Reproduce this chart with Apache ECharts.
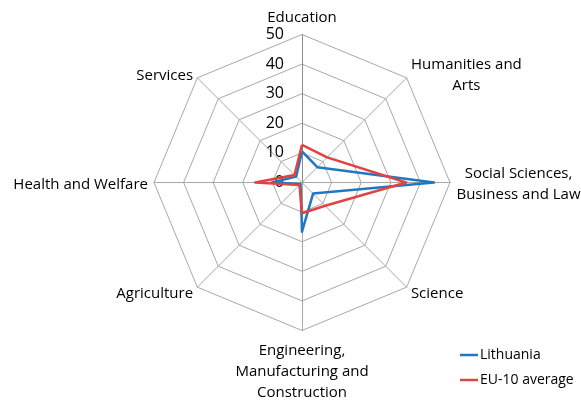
<!DOCTYPE html>
<html>
<head>
<meta charset="utf-8">
<script src="https://cdn.jsdelivr.net/npm/echarts@6/dist/echarts.min.js"></script>
<style>html,body{margin:0;padding:0;background:#fff}#c{width:581px;height:402px}</style>
</head>
<body>
<div id="c"></div>
<script>
// Categories in clockwise order starting at the top
var categories = ['Education', 'Humanities and\nArts', 'Social Sciences,\nBusiness and Law', 'Science',
  'Engineering,\nManufacturing and\nConstruction', 'Agriculture', 'Health and Welfare', 'Services'];
var lithuania = [10.5, 7.3, 44.6, 5.3, 16.6, 0.7, 10.2, 2.8];
var eu10 = [12.7, 12.0, 35.2, 11.1, 10.4, 1.2, 15.8, 3.6];
var seriesNames = ['Lithuania', 'EU-10 average'];
var tickLabels = [0, 10, 20, 30, 40, 50];
var axisMax = 50;

var FONT = 'Open Sans';
var FS = 15;
// ECharts radar runs counter-clockwise; reorder to get a clockwise layout
function cw(arr) { var out = [arr[0]]; for (var i = arr.length - 1; i >= 1; i--) out.push(arr[i]); return out; }

// per-label rich styles so multi-line names are centred within their own width
var ctx = document.createElement('canvas').getContext('2d');
ctx.font = FS + 'px "' + FONT + '"';
var rich = {};
categories.forEach(function (c, i) {
  var w = 0;
  c.split('\n').forEach(function (s) { w = Math.max(w, ctx.measureText(s).width); });
  rich['r' + i] = {width: Math.ceil(w), align: 'center', fontFamily: FONT, fontSize: FS, lineHeight: 21, color: '#000'};
});

var chart = echarts.init(document.getElementById('c'), null, {renderer: 'canvas'});
var cx = 302, cy = 182.5, R = 148;
chart.setOption({
  animation: false,
  backgroundColor: '#fff',
  color: ['#1f78c1', '#e04343'],
  legend: {
    orient: 'vertical', left: 455, top: 343,
    icon: 'rect', itemWidth: 18, itemHeight: 2.5, itemGap: 11,
    textStyle: {fontFamily: FONT, fontSize: 14, color: '#000', padding: [0, 0, 0, -3]},
    data: seriesNames
  },
  radar: {
    center: [cx, cy], radius: R, startAngle: 90, shape: 'polygon', splitNumber: 5,
    nameGap: 6,
    indicator: cw(categories).map(function (c) { return {name: c, min: 0, max: axisMax}; }),
    axisName: {
      color: '#000', fontFamily: FONT, fontSize: FS, lineHeight: 21, padding: [4, 0, 0, 0],
      formatter: function (n) {
        var i = categories.indexOf(n);
        if (n.indexOf('\n') < 0) return n;
        return n.split('\n').map(function (s) { return '{r' + i + '|' + s + '}'; }).join('\n');
      },
      rich: rich
    },
    splitLine: {lineStyle: {color: '#a8a8a8', width: 1}},
    splitArea: {show: false},
    axisLine: {lineStyle: {color: '#a8a8a8', width: 1}},
    axisLabel: {show: false}
  },
  grid: {left: cx, width: 1, top: cy - R, height: R},
  xAxis: {type: 'value', show: false},
  yAxis: {
    type: 'value', min: 0, max: axisMax, interval: 10,
    axisLine: {show: true, lineStyle: {color: '#8c8c8c'}}, axisTick: {show: false}, splitLine: {show: false},
    axisLabel: {margin: 18, fontFamily: FONT, fontSize: 16, color: '#000', padding: [3, 0, 0, 0],
      formatter: function (v) { return tickLabels.indexOf(v) >= 0 ? String(v) : ''; }}
  },
  series: [{
    type: 'radar', symbol: 'none',
    lineStyle: {width: 2.5},
    data: [
      {name: seriesNames[0], value: cw(lithuania), lineStyle: {color: '#1f78c1', width: 2.5}, itemStyle: {color: '#1f78c1'}},
      {name: seriesNames[1], value: cw(eu10), lineStyle: {color: '#e04343', width: 2.5}, itemStyle: {color: '#e04343'}}
    ]
  }]
});
</script>
</body>
</html>
